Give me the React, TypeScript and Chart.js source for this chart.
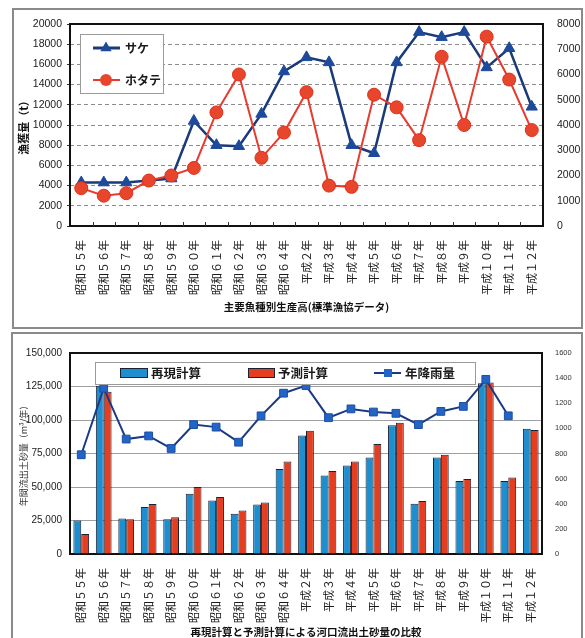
import React, { useEffect, useRef } from 'react';
import { Chart, registerables } from 'chart.js';

Chart.register(...registerables);

// ---------- data ----------
const years = [
  '昭和５５年', '昭和５６年', '昭和５７年', '昭和５８年', '昭和５９年', '昭和６０年', '昭和６１年',
  '昭和６２年', '昭和６３年', '昭和６４年', '平成２年', '平成３年', '平成４年', '平成５年', '平成６年',
  '平成７年', '平成８年', '平成９年', '平成１０年', '平成１１年', '平成１２年',
];

// top chart (t)
const sake = [4300, 4300, 4300, 4500, 4700, 10400, 8000, 7900, 11100, 15300, 16700, 16200, 8000, 7200, 16200, 19200, 18700, 19200, 15700, 17600, 11800];
const hotate = [1500, 1200, 1300, 1800, 2000, 2300, 4500, 6000, 2700, 3700, 5300, 1600, 1550, 5200, 4700, 3400, 6700, 4000, 7500, 5800, 3800];

// bottom chart
const saigen = [25000, 125500, 26500, 35000, 26000, 45000, 40000, 30000, 37000, 63500, 88500, 58500, 66000, 72000, 96000, 37500, 72000, 54500, 127500, 54500, 93500];
const yosoku = [15000, 121000, 26000, 37300, 27500, 50000, 42500, 32500, 38500, 69000, 92000, 62000, 69000, 82000, 98000, 39500, 74000, 56000, 128000, 57000, 92500];
const rain = [790, 1320, 915, 940, 840, 1030, 1010, 890, 1100, 1280, 1340, 1085, 1155, 1130, 1120, 1030, 1135, 1175, 1390, 1100, null];

const topTitle = '主要魚種別生産高(標準漁協データ)';
const topYTitle = '漁獲量（t）';
const botTitle = '再現計算と予測計算による河口流出土砂量の比較';
const botYTitle = '年間流出土砂量（m³/年）';

// ---------- styles ----------
const CJK = '"Noto Sans CJK JP", "Noto Sans", sans-serif';
const NUM = '"Liberation Sans", Arial, sans-serif';
const TXT = '#1a1a1a';
const SAKE_LINE = '#1b3a7a';
const SAKE_PT = '#1d4a9c';
const HOT_LINE = '#e63b2e';
const HOT_PT = '#e8462c';
const BLUE = '#1f8ecf';
const RED = '#e43d20';
const RAIN_LINE = '#1b3a84';
const RAIN_PT = '#2265c4';

function frame(chart: any) {
  const { ctx, chartArea: a } = chart;
  ctx.save();
  ctx.strokeStyle = '#111';
  ctx.lineWidth = 2;
  ctx.strokeRect(a.left, a.top, a.right - a.left, a.bottom - a.top);
  ctx.restore();
}

const topPlugin = {
  id: 'topDeco',
  beforeDatasetsDraw(chart: any) {
    frame(chart);
    const { ctx, chartArea: a } = chart;
    const xs = chart.scales.x;
    ctx.save();
    ctx.strokeStyle = '#333';
    ctx.lineWidth = 1;
    for (let i = 1; i < years.length; i++) {
      const x = Math.round((xs.getPixelForValue(i - 1) + xs.getPixelForValue(i)) / 2) + 0.5;
      ctx.beginPath();
      ctx.moveTo(x, a.bottom);
      ctx.lineTo(x, a.bottom - 4);
      ctx.stroke();
    }
    ctx.restore();
  },
  afterDatasetsDraw(chart: any) {
    const { ctx } = chart;
    ctx.save();
    ctx.fillStyle = '#fff';
    ctx.fillRect(80.5, 34.5, 83, 59);
    ctx.strokeStyle = '#9a9a9a';
    ctx.lineWidth = 1;
    ctx.strokeRect(80.5, 34.5, 83, 59);
    // サケ
    ctx.strokeStyle = SAKE_LINE;
    ctx.lineWidth = 3;
    ctx.beginPath();
    ctx.moveTo(93, 48);
    ctx.lineTo(120, 48);
    ctx.stroke();
    const r = 6.5;
    ctx.fillStyle = SAKE_PT;
    ctx.beginPath();
    ctx.moveTo(106, 48 - r);
    ctx.lineTo(106 + 0.866 * r, 48 + 0.5 * r);
    ctx.lineTo(106 - 0.866 * r, 48 + 0.5 * r);
    ctx.closePath();
    ctx.fill();
    // ホタテ
    ctx.strokeStyle = HOT_LINE;
    ctx.lineWidth = 2;
    ctx.beginPath();
    ctx.moveTo(93, 80);
    ctx.lineTo(120, 80);
    ctx.stroke();
    ctx.fillStyle = HOT_PT;
    ctx.beginPath();
    ctx.arc(106, 80, 6, 0, Math.PI * 2);
    ctx.fill();
    ctx.fillStyle = TXT;
    ctx.font = `bold 12px ${CJK}`;
    ctx.textBaseline = 'middle';
    ctx.textAlign = 'left';
    ctx.fillText('サケ', 125, 48);
    ctx.fillText('ホタテ', 125, 80);
    ctx.restore();
  },
};

const botPlugin = {
  id: 'botDeco',
  beforeDatasetsDraw(chart: any) {
    frame(chart);
  },
  afterDatasetsDraw(chart: any) {
    const { ctx } = chart;
    ctx.save();
    ctx.fillStyle = '#fff';
    ctx.fillRect(95.5, 32.5, 380, 22);
    ctx.strokeStyle = '#9a9a9a';
    ctx.lineWidth = 1;
    ctx.strokeRect(95.5, 32.5, 380, 22);
    ctx.lineWidth = 1;
    ctx.strokeStyle = '#1b2233';
    ctx.fillStyle = BLUE;
    ctx.fillRect(120.5, 38.5, 27, 9);
    ctx.strokeRect(120.5, 38.5, 27, 9);
    ctx.fillStyle = RED;
    ctx.fillRect(248.5, 38.5, 26, 9);
    ctx.strokeRect(248.5, 38.5, 26, 9);
    ctx.strokeStyle = RAIN_LINE;
    ctx.lineWidth = 2;
    ctx.beginPath();
    ctx.moveTo(374, 43);
    ctx.lineTo(401, 43);
    ctx.stroke();
    ctx.fillStyle = RAIN_PT;
    ctx.fillRect(384, 39, 8, 8);
    ctx.fillStyle = TXT;
    ctx.font = `bold 12.5px ${CJK}`;
    ctx.textBaseline = 'middle';
    ctx.textAlign = 'left';
    ctx.fillText('再現計算', 151, 43);
    ctx.fillText('予測計算', 278, 43);
    ctx.fillText('年降雨量', 405, 43);
    ctx.restore();
  },
};

function topConfig(): any {
  return {
    type: 'line',
    data: {
      labels: years,
      datasets: [
        {
          label: 'サケ', data: sake, yAxisID: 'y', order: 1,
          borderColor: SAKE_LINE, borderWidth: 2.5, tension: 0,
          pointStyle: 'triangle', pointRadius: 6.5,
          pointBackgroundColor: SAKE_PT, pointBorderColor: SAKE_PT, pointBorderWidth: 1,
        },
        {
          label: 'ホタテ', data: hotate, yAxisID: 'y1', order: 0,
          borderColor: HOT_LINE, borderWidth: 2, tension: 0,
          pointStyle: 'circle', pointRadius: 6.5,
          pointBackgroundColor: HOT_PT, pointBorderColor: '#e0301c', pointBorderWidth: 1,
        },
      ],
    },
    options: {
      responsive: false,
      animation: false,
      devicePixelRatio: 1,
      events: [],
      layout: { padding: { left: 13, top: 24, right: 0, bottom: 0 } },
      plugins: { legend: { display: false }, tooltip: { enabled: false } },
      scales: {
        x: {
          type: 'category',
          offset: true,
          grid: { display: false, offset: true },
          border: { display: false },
          ticks: {
            autoSkip: false, minRotation: 90, maxRotation: 90, padding: 6,
            color: TXT, font: { family: CJK, size: 11 },
          },
          title: {
            display: true, text: topTitle, color: '#111',
            font: { family: CJK, size: 10.5, weight: 'bold' },
            padding: { top: 0, bottom: 17 },
          },
          afterFit: (s: any) => { s.height = 104; },
        },
        y: {
          position: 'left', min: 0, max: 20000,
          ticks: {
            stepSize: 2000, padding: 5, color: TXT,
            font: { family: NUM, size: 10.5 },
            callback: (v: any) => String(v),
          },
          grid: { color: '#8c8c8c', lineWidth: 1, drawTicks: true, tickLength: 3, tickColor: '#333' },
          border: { display: false, dash: [4, 3] },
          title: {
            display: true, text: topYTitle, color: '#111',
            font: { family: CJK, size: 11, weight: 'bold' },
            padding: { top: 4, bottom: 0 },
          },
          afterFit: (s: any) => { s.width = 57; },
        },
        y1: {
          position: 'right', min: 0, max: 8000,
          ticks: {
            stepSize: 1000, padding: 6, color: TXT,
            font: { family: NUM, size: 10.5 },
            callback: (v: any) => String(v),
          },
          grid: { display: false },
          border: { display: false },
          afterFit: (s: any) => { s.width = 42; },
        },
      },
    },
    plugins: [topPlugin],
  };
}

function botConfig(): any {
  return {
    type: 'bar',
    data: {
      labels: years,
      datasets: [
        {
          type: 'line', label: '年降雨量', data: rain, yAxisID: 'y1', order: 0,
          borderColor: RAIN_LINE, borderWidth: 2, tension: 0, spanGaps: false,
          pointStyle: 'rect', pointRadius: 5.5,
          pointBackgroundColor: RAIN_PT, pointBorderColor: '#1b4fa8', pointBorderWidth: 1,
        },
        {
          label: '再現計算', data: saigen, yAxisID: 'y', order: 1,
          backgroundColor: BLUE, borderColor: '#1b2233', borderWidth: 1,
          categoryPercentage: 0.7, barPercentage: 1,
        },
        {
          label: '予測計算', data: yosoku, yAxisID: 'y', order: 1,
          backgroundColor: RED, borderColor: '#1b2233', borderWidth: 1,
          categoryPercentage: 0.7, barPercentage: 1,
        },
      ],
    },
    options: {
      responsive: false,
      animation: false,
      devicePixelRatio: 1,
      events: [],
      layout: { padding: { left: 12, top: 23, right: 0, bottom: 0 } },
      plugins: { legend: { display: false }, tooltip: { enabled: false } },
      scales: {
        x: {
          grid: { display: false },
          border: { display: false },
          ticks: {
            autoSkip: false, minRotation: 90, maxRotation: 90, padding: 6,
            color: TXT, font: { family: CJK, size: 11 },
          },
          title: {
            display: true, text: botTitle, color: '#111',
            font: { family: CJK, size: 10.5, weight: 'bold' },
            padding: { top: 0, bottom: 12 },
          },
          afterFit: (s: any) => { s.height = 96; },
        },
        y: {
          position: 'left', min: 0, max: 150000,
          ticks: {
            stepSize: 25000, padding: 8, color: TXT,
            font: { family: NUM, size: 10 },
            callback: (v: any) => Number(v).toLocaleString('en-US'),
          },
          grid: { color: '#a0a0a0', lineWidth: 1, drawTicks: false },
          border: { display: false },
          title: {
            display: true, text: botYTitle, color: '#333',
            font: { family: CJK, size: 9 },
            padding: { top: 6.5, bottom: 0 },
          },
          afterFit: (s: any) => { s.width = 58; },
        },
        y1: {
          position: 'right', min: 0, max: 1600,
          ticks: {
            stepSize: 200, padding: 5, color: '#333',
            font: { family: NUM, size: 7.5 },
            callback: (v: any) => String(v),
          },
          grid: { display: false },
          border: { display: false },
          afterFit: (s: any) => { s.width = 43; },
        },
      },
    },
    plugins: [botPlugin],
  };
}

export default function App() {
  const topRef = useRef<HTMLCanvasElement>(null);
  const botRef = useRef<HTMLCanvasElement>(null);

  useEffect(() => {
    const c1 = new Chart(topRef.current as HTMLCanvasElement, topConfig());
    const c2 = new Chart(botRef.current as HTMLCanvasElement, botConfig());
    return () => {
      c1.destroy();
      c2.destroy();
    };
  }, []);

  return (
    <div style={{ position: 'fixed', left: 0, top: 0, width: 585, height: 638, overflow: 'hidden', background: '#fff' }}>
      <div style={{ position: 'absolute', left: 12, top: 8, width: 571, height: 321, border: '2px solid #8a8a8a', boxSizing: 'border-box' }} />
      <div style={{ position: 'absolute', left: 11, top: 332, width: 572, height: 330, border: '2px solid #8a8a8a', boxSizing: 'border-box' }} />
      <canvas ref={topRef} width={585} height={330} style={{ position: 'absolute', left: 0, top: 0, width: 585, height: 330 }} />
      <canvas ref={botRef} width={585} height={320} style={{ position: 'absolute', left: 0, top: 330, width: 585, height: 320 }} />
    </div>
  );
}
